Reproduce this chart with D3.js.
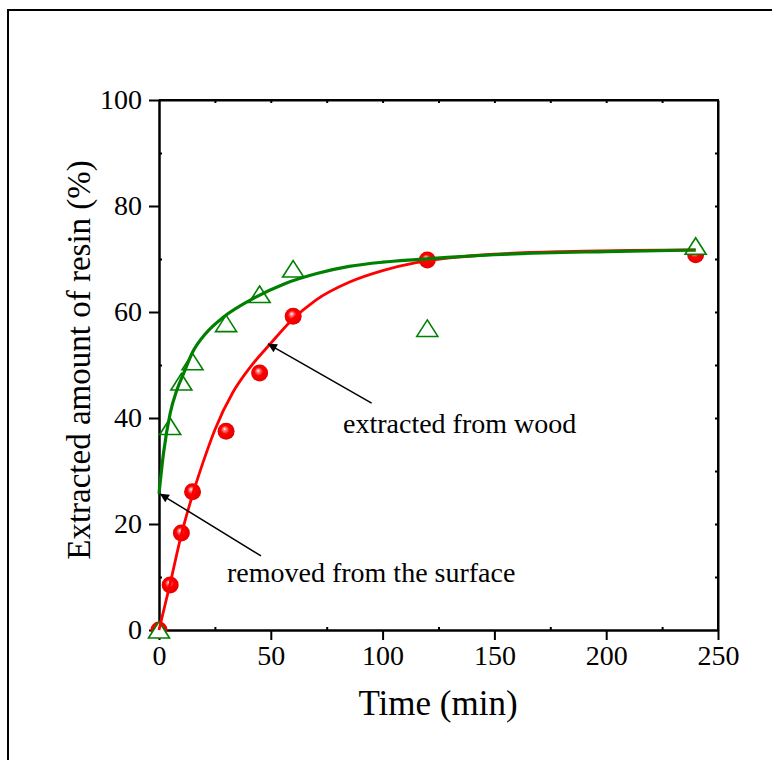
<!DOCTYPE html>
<html>
<head>
<meta charset="utf-8">
<script src="https://cdn.jsdelivr.net/npm/d3@7"></script>
<style>
  body { margin: 0; padding: 0; background: #fff; }
  svg { display: block; font-family: 'Liberation Serif', 'Times New Roman', serif; }
</style>
</head>
<body>
<div id="chart"></div>
<script>
// measured points
const times = [0, 5, 10, 15, 30, 45, 60, 120, 240]
const surfaceWood = [0, 8.5, 18.3, 26.1, 37.5, 48.5, 59.2, 69.8, 70.8]   // red spheres
const woodOnly = [0, 38.4, 46.8, 50.6, 57.8, 63.3, 68.1, 56.9, 72.4]      // green triangles

// fitted curves
const redCurveT = [0, 5, 10, 15, 20, 25, 33, 41, 50, 59, 70, 85, 100, 115, 130, 150, 180, 210, 240]
const redCurveV = [0, 8.8, 18, 25.5, 32, 37.8, 44.8, 49.7, 54.1, 58.3, 62.2, 65.6, 67.8, 69.3, 70.2, 70.9, 71.4, 71.6, 71.7]
const greenCurveT = [0, 2, 5, 8, 11, 15, 21, 29, 41, 56, 71, 85, 100, 115, 150, 200, 240]
const greenCurveV = [25.7, 33.3, 40.9, 45.3, 48.4, 52.4, 56, 59.1, 62.3, 65.3, 67.3, 68.6, 69.4, 69.9, 70.8, 71.4, 71.7]

const xTicks = [0, 50, 100, 150, 200, 250]
const yTicks = [0, 20, 40, 60, 80, 100]

const width = 772
const height = 760
const x = d3.scaleLinear().domain([0, 250]).range([159, 718])
const y = d3.scaleLinear().domain([0, 100]).range([630, 100])

const svg = d3.select('#chart').append('svg')
  .attr('width', width)
  .attr('height', height)

// outer frame (runs off the right/bottom edge)
svg.append('rect')
  .attr('x', 8).attr('y', 10)
  .attr('width', 800).attr('height', 800)
  .attr('fill', 'none')
  .attr('stroke', '#000')
  .attr('stroke-width', 2)

const defs = svg.append('defs')
const grad = defs.append('radialGradient')
  .attr('id', 'sphere')
  .attr('cx', '50%').attr('cy', '50%').attr('r', '55%')
  .attr('fx', '40%').attr('fy', '35%')
grad.append('stop').attr('offset', '0%').attr('stop-color', '#ffffff')
grad.append('stop').attr('offset', '18%').attr('stop-color', '#ff8080')
grad.append('stop').attr('offset', '45%').attr('stop-color', '#ff0000')
grad.append('stop').attr('offset', '100%').attr('stop-color', '#e00000')

defs.append('marker')
  .attr('id', 'head')
  .attr('viewBox', '0 0 10 10')
  .attr('refX', 10).attr('refY', 5)
  .attr('markerWidth', 13).attr('markerHeight', 9)
  .attr('markerUnits', 'userSpaceOnUse')
  .attr('orient', 'auto')
  .append('path')
  .attr('d', 'M0,0L10,5L0,10Z')
  .attr('fill', '#000')

// axes: major ticks outward on left/bottom, minor ticks inward on all sides
const axisG = svg.append('g').attr('class', 'axes')

const xAxisG = axisG.append('g')
  .attr('transform', `translate(0,${y(0)})`)
  .call(d3.axisBottom(x).tickValues(xTicks).tickSize(10).tickSizeOuter(0).tickFormat(d3.format('d')))
axisG.append('g')
  .attr('transform', `translate(0,${y(0)})`)
  .call(d3.axisTop(x).tickValues(d3.range(25, 250, 50)).tickSize(3).tickSizeOuter(0).tickFormat(''))
axisG.append('g')
  .attr('transform', `translate(0,${y(100)})`)
  .call(d3.axisBottom(x).tickValues(d3.range(25, 250, 25)).tickSize(3).tickSizeOuter(0).tickFormat(''))

const yAxisG = axisG.append('g')
  .attr('transform', `translate(${x(0)},0)`)
  .call(d3.axisLeft(y).tickValues(yTicks).tickSize(10).tickSizeOuter(0).tickFormat(d3.format('d')))
axisG.append('g')
  .attr('transform', `translate(${x(0)},0)`)
  .call(d3.axisRight(y).tickValues(d3.range(10, 100, 20)).tickSize(3).tickSizeOuter(0).tickFormat(''))
axisG.append('g')
  .attr('transform', `translate(${x(250)},0)`)
  .call(d3.axisLeft(y).tickValues(d3.range(10, 100, 10)).tickSize(3).tickSizeOuter(0).tickFormat(''))

axisG.selectAll('.domain').attr('stroke', '#000').attr('stroke-width', 2)
axisG.selectAll('.tick line').attr('stroke', '#000').attr('stroke-width', 2)
axisG.selectAll('text')
  .attr('font-family', "'Liberation Serif', 'Times New Roman', serif")
  .attr('font-size', 28)
  .attr('fill', '#000')

xAxisG.selectAll('.tick text').attr('y', 15).attr('dy', '0.71em')
yAxisG.selectAll('.tick text').attr('x', -17)

// close the box
svg.append('line')
  .attr('x1', x(0)).attr('x2', x(250))
  .attr('y1', y(100)).attr('y2', y(100))
  .attr('stroke', '#000').attr('stroke-width', 2)
svg.append('line')
  .attr('x1', x(250)).attr('x2', x(250))
  .attr('y1', y(0) + 1).attr('y2', y(100) - 1)
  .attr('stroke', '#000').attr('stroke-width', 2)

// markers
const rows = times.map((t, i) => ({t, red: surfaceWood[i], green: woodOnly[i]}))

svg.append('g').selectAll('circle')
  .data(rows)
  .enter()
  .append('circle')
  .attr('cx', d => x(d.t))
  .attr('cy', d => y(d.red))
  .attr('r', 8.5)
  .attr('fill', 'url(#sphere)')

svg.append('g').selectAll('path')
  .data(rows)
  .enter()
  .append('path')
  .attr('transform', d => `translate(${x(d.t)},${y(d.green)})`)
  .attr('d', 'M0,-8.5L10.5,8L-10.5,8Z')
  .attr('fill', '#fff')
  .attr('stroke', '#008000')
  .attr('stroke-width', 1.6)

// fitted curves
const line = d3.line()
  .x(d => x(d[0]))
  .y(d => y(d[1]))
  .curve(d3.curveMonotoneX)

svg.append('path')
  .datum(redCurveT.map((t, i) => [t, redCurveV[i]]))
  .attr('d', line)
  .attr('fill', 'none')
  .attr('stroke', '#ff0000')
  .attr('stroke-width', 2.8)

svg.append('path')
  .datum(greenCurveT.map((t, i) => [t, greenCurveV[i]]))
  .attr('d', line)
  .attr('fill', 'none')
  .attr('stroke', '#008000')
  .attr('stroke-width', 3.2)

// annotations
const notes = [
  {text: 'extracted from wood', tx: 82.3, ty: 37.2, from: [95.1, 42.8], to: [48.7, 54]},
  {text: 'removed from the surface', tx: 30.4, ty: 9.1, from: [45.6, 14], to: [0.4, 25.7]}
]

svg.append('g').selectAll('line')
  .data(notes)
  .enter()
  .append('line')
  .attr('x1', d => x(d.from[0])).attr('y1', d => y(d.from[1]))
  .attr('x2', d => x(d.to[0])).attr('y2', d => y(d.to[1]))
  .attr('stroke', '#000')
  .attr('stroke-width', 1.5)
  .attr('marker-end', 'url(#head)')

svg.append('g').selectAll('text')
  .data(notes)
  .enter()
  .append('text')
  .attr('x', d => x(d.tx))
  .attr('y', d => y(d.ty))
  .attr('font-size', 28)
  .text(d => d.text)

// axis titles
svg.append('text')
  .attr('x', 438)
  .attr('y', 715)
  .attr('text-anchor', 'middle')
  .attr('font-size', 35)
  .text('Time (min)')

svg.append('text')
  .attr('transform', 'translate(90,360) rotate(-90)')
  .attr('text-anchor', 'middle')
  .attr('font-size', 33)
  .text('Extracted amount of resin (%)')
</script>
</body>
</html>
